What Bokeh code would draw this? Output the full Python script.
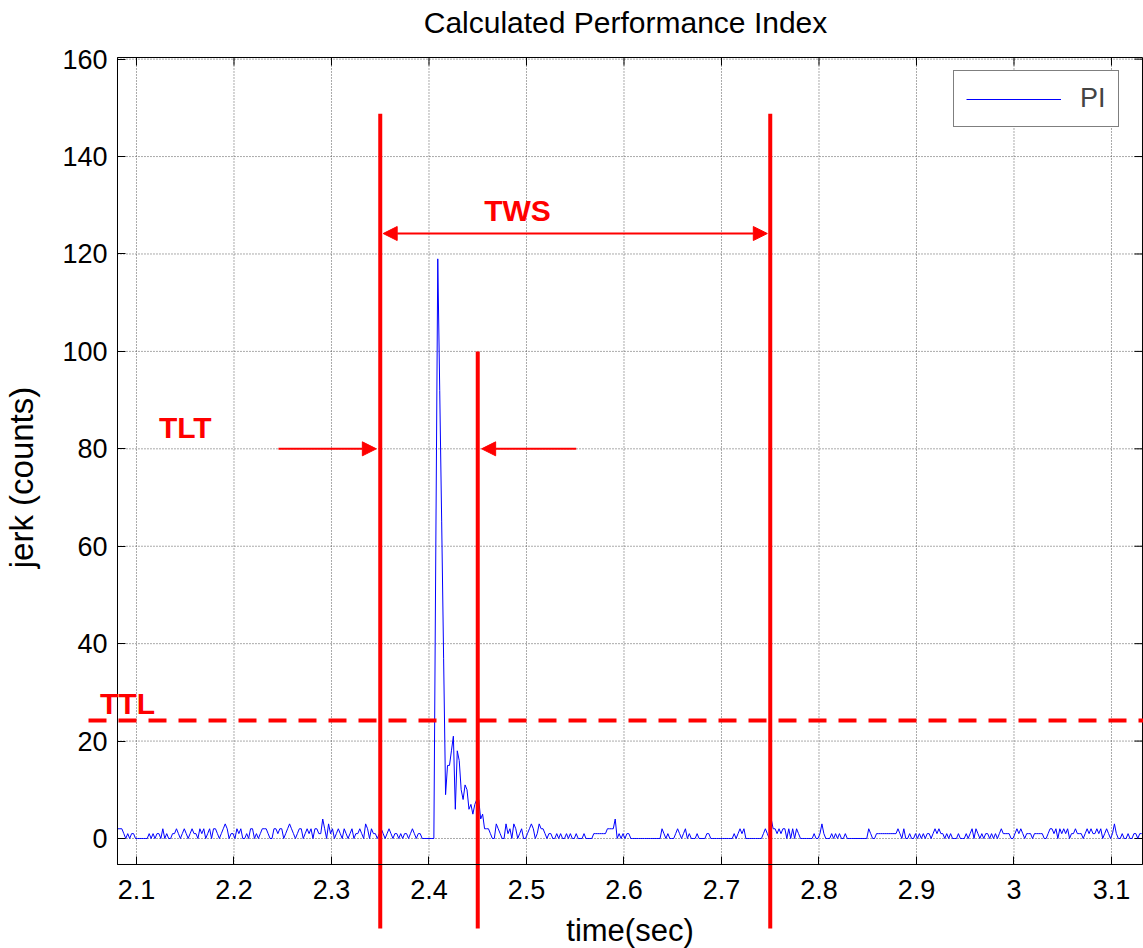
import numpy as np
from bokeh.plotting import figure
from bokeh.models import (Range1d, FixedTicker, Arrow, NormalHead, Label, Legend, LegendItem)
from bokeh.embed import file_html
from bokeh.resources import INLINE

# ---------------- data ----------------
t_start = 2.081
t_step = 0.002
pi_before_1 = [2,2,2,1,0,1,0,1,1,0, 0,0,0,0,0,0,1,0,1,0, 1,1,0,2,0,1,0,0,1,1,
               2,1,0,1,2,1,0,1,2,1, 1,0,2,1,2,0,1,2,0,2]
pi_before_2 = [2,1,0,1,2,3,2,0,1,1, 0,2,1,2,0,0,1,0,2,2, 0,1,0,1,2,2,2,1,0,0,
               2,2,1,2,2,0,1,2,3,2, 1,0,1,2,2,0,1,2,1,2]
pi_before_3 = [0,2,2,1,1,4,2,0,3,1, 2,0,1,2,1,0,2,1,0,1, 2,0,1,1,2,1,0,3,2,0,
               2,1,1,0,1,2,1,0,1,2, 1,0,1,1,0,1,0,1,1,0]
pi_before_4 = [1,2,1,0,1,1,0,0,0,0,0,0]
pi_spike = [0,60,119,92,65,37,9,15,15,18, 21,6,18,16,10,8,11,10,6,7,
            5,7,8,8,4,5,2,2,2,1, 0,0,3,2,1,0]
pi_after_1 = [0,3,1,2,0,3,2,0,1,2, 0,0,1,2,3,2,0,1,3,2, 2,1,0,1,1,0,0,1,0,1,
              0,0,1,0,1,0,0,1,0,0, 0,1,0,0,0,0,1,1,1,1]
pi_after_2 = [1,1,1,2,2,2,2,4,0,1, 0,1,0,1,1,0,0,0,0,0, 0,0,0,0,0,0,0,0,0,0,
              0,2,1,0,1,0,0,0,1,2, 1,0,1,2,0,1,0,0,0,1]
pi_after_3 = [0,0,0,0,1,1,0,0,0,0, 0,0,0,0,0,0,0,0,1,0, 1,2,1,2,0,0,0,0,0,0,
              0,0,0,1,2,1,0,4,2,2, 1,2,1,2,2,0,2,0,2,0]
pi_after_4 = [2,1,0,0,0,0,0,0,0,1, 0,0,1,3,1,0,0,0,1,0, 1,0,1,0,0,1,0,0,0,0,
              0,0,0,0,0,0,0,2,1,0, 0,1,1,1,1,1,1,1,1,1]
pi_after_5 = [1,1,2,1,0,2,0,0,1,0, 0,1,0,1,0,1,0,1,1,0, 1,2,1,2,1,1,0,1,0,1,
              0,0,0,1,0,0,0,1,0,1, 2,0,2,1,0,1,0,1,1,0]
pi_after_6 = [1,0,1,0,1,2,1,1,1,1, 0,0,1,2,1,2,1,0,1,1, 1,0,1,1,1,1,1,0,0,1,
              2,2,1,2,0,2,1,2,1,2, 0,1,1,2,1,1,1,0,1,2]
pi_after_7 = [1,2,1,1,2,1,2,0,1,2, 1,0,1,3,1,0,0,1,0,0, 1,0,0,1,1,0,1,1]

pi_values = (pi_before_1 + pi_before_2 + pi_before_3 + pi_before_4 + pi_spike +
             pi_after_1 + pi_after_2 + pi_after_3 + pi_after_4 + pi_after_5 +
             pi_after_6 + pi_after_7)
pi_time = t_start + t_step * np.arange(len(pi_values))

x_ticks = [2.1, 2.2, 2.3, 2.4, 2.5, 2.6, 2.7, 2.8, 2.9, 3.0, 3.1]
x_tick_labels = ["2.1", "2.2", "2.3", "2.4", "2.5", "2.6", "2.7", "2.8", "2.9", "3", "3.1"]
y_ticks = [0, 20, 40, 60, 80, 100, 120, 140, 160]
y_tick_labels = ["0", "20", "40", "60", "80", "100", "120", "140", "160"]

# annotation values
tws_start = 2.35
tws_end = 2.75
tlt_end = 2.45
ttl_level = 24.2
tws_arrow_y = 124.2
tlt_arrow_y = 80

# ---------------- layout ----------------
W, H = 1143, 948
X_RANGE = (1.960513, 3.132821)
Y_RANGE = (-22.583, 172.038)
BOX_X = (2.080513, 3.131795)
BOX_Y = (-5.338, 160.337)
PX_X = W / (X_RANGE[1] - X_RANGE[0])
PX_Y = H / (Y_RANGE[1] - Y_RANGE[0])
TALL_TOP, SHORT_TOP, LINE_BOTTOM = 148.8, 100, -18.5

FONT = "Liberation Sans"
RED = "#ff0000"

p = figure(width=W, height=H, output_backend="svg", toolbar_location=None,
           x_range=Range1d(*X_RANGE), y_range=Range1d(*Y_RANGE),
           min_border=0, min_border_left=0, min_border_right=0,
           min_border_top=0, min_border_bottom=0, title=None)
p.outline_line_color = None
p.xgrid.visible = False
p.ygrid.visible = False

xo = {t: l for t, l in zip(x_ticks, x_tick_labels)}
yo = {t: l for t, l in zip(y_ticks, y_tick_labels)}

xax = p.below[0]
yax = p.left[0]
xax.ticker = FixedTicker(ticks=x_ticks)
xax.major_label_overrides = xo
xax.fixed_location = BOX_Y[0]
xax.bounds = BOX_X
yax.ticker = FixedTicker(ticks=y_ticks)
yax.major_label_overrides = yo
yax.fixed_location = BOX_X[0]
yax.bounds = BOX_Y

for ax in [xax, yax]:
    ax.major_tick_in = 8
    ax.major_tick_out = 0
    ax.minor_tick_in = 0
    ax.minor_tick_out = 0
    ax.axis_line_color = "black"
    ax.major_tick_line_color = "black"
    ax.major_label_text_font = FONT
    ax.major_label_text_font_size = "27px"
    ax.major_label_text_color = "black"
    ax.axis_label_text_font = FONT
    ax.axis_label_text_font_size = "31px"
    ax.axis_label_text_font_style = "normal"
    ax.axis_label_text_color = "black"

xax.major_label_standoff = 16
yax.major_label_standoff = 10
xax.axis_label = "time(sec)"
xax.axis_label_standoff = 10

# y axis title
p.add_layout(Label(x=21, y=H - 477, x_units="screen", y_units="screen",
                   text="jerk (counts)", angle=np.pi / 2, text_font=FONT,
                   text_font_size="33px", text_color="black",
                   text_align="center", text_baseline="middle"))

# grid (dotted, only inside the axes box)
p.segment(x0=x_ticks, y0=BOX_Y[0], x1=x_ticks, y1=BOX_Y[1],
          line_color="#555555", line_dash="1 2", line_width=1)
p.segment(x0=BOX_X[0], y0=y_ticks, x1=BOX_X[1], y1=y_ticks,
          line_color="#555555", line_dash="1 2", line_width=1)

# box outline and inward ticks on top / right
p.quad(left=BOX_X[0], right=BOX_X[1], bottom=BOX_Y[0], top=BOX_Y[1],
       fill_color=None, line_color="black", line_width=1)
p.segment(x0=x_ticks, y0=BOX_Y[1], x1=x_ticks, y1=BOX_Y[1] - 8 / PX_Y,
          line_color="black", line_width=1)
p.segment(x0=BOX_X[1], y0=y_ticks, x1=BOX_X[1] - 8 / PX_X, y1=y_ticks,
          line_color="black", line_width=1)

line = p.line(pi_time, pi_values, line_color="#0000ff", line_width=1)

legend = Legend(items=[LegendItem(label="PI", renderers=[line])],
                location=(953, 821), glyph_width=95, glyph_height=20,
                padding=12, label_standoff=19, spacing=0,
                label_text_font=FONT, label_text_font_size="27px",
                border_line_color="black", border_line_width=1,
                background_fill_color="white", background_fill_alpha=1,
                margin=0)
p.add_layout(legend)

# title
p.add_layout(Label(x=625, y=H - 22, x_units="screen", y_units="screen",
                   text="Calculated Performance Index", text_font=FONT,
                   text_font_size="30px", text_color="black",
                   text_align="center", text_baseline="middle"))

# red annotation lines
p.segment(x0=[tws_start, tws_end], y0=LINE_BOTTOM, x1=[tws_start, tws_end], y1=TALL_TOP,
          line_color=RED, line_width=4)
p.segment(x0=tlt_end, y0=LINE_BOTTOM, x1=tlt_end, y1=SHORT_TOP,
          line_color=RED, line_width=4)
p.segment(x0=X_RANGE[0] + 88 / PX_X, y0=ttl_level, x1=X_RANGE[1], y1=ttl_level,
          line_color=RED, line_width=4, line_dash="18 12")

def head():
    return NormalHead(size=14, fill_color=RED, line_color=RED, line_width=1)

p.add_layout(Arrow(start=head(), end=head(), x_start=tws_start + 0.003, y_start=tws_arrow_y,
                   x_end=tws_end - 0.003, y_end=tws_arrow_y, line_color=RED, line_width=2))
p.add_layout(Arrow(end=head(), x_start=2.2456, y_start=tlt_arrow_y,
                   x_end=tws_start - 0.004, y_end=tlt_arrow_y, line_color=RED, line_width=2))
p.add_layout(Arrow(end=head(), x_start=2.551, y_start=tlt_arrow_y,
                   x_end=tlt_end + 0.004, y_end=tlt_arrow_y, line_color=RED, line_width=2))

for txt, x, y in [("TWS", 2.4908, 128.9), ("TLT", 2.150, 84.4), ("TTL", 2.0908, 27.7)]:
    p.add_layout(Label(x=x, y=y, text=txt, text_color=RED, text_font=FONT,
                       text_font_size="30px", text_font_style="bold",
                       text_align="center", text_baseline="middle"))

open("out.html", "w").write(file_html(p, INLINE))
